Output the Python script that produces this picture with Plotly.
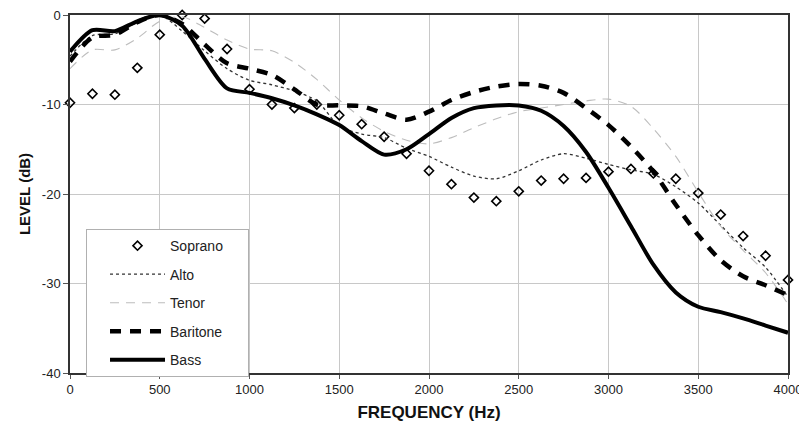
import plotly.graph_objects as go

freq = [0, 125, 250, 375, 500, 625, 750, 875, 1000, 1125, 1250, 1375, 1500, 1625, 1750,
        1875, 2000, 2125, 2250, 2375, 2500, 2625, 2750, 2875, 3000, 3125, 3250, 3375,
        3500, 3625, 3750, 3875, 4000]

soprano = [-9.8, -8.8, -8.9, -5.9, -2.2, 0.0, -0.4, -3.8, -8.3, -10.0, -10.4, -10.0, -11.2,
           -12.2, -13.6, -15.5, -17.4, -18.9, -20.4, -20.8, -19.7, -18.5, -18.3, -18.2,
           -17.5, -17.2, -17.7, -18.3, -19.9, -22.3, -24.7, -26.9, -29.6]

alto = [-4.6, -2.3, -2.1, -0.8, 0.0, -1.8, -4.0, -6.0, -7.3, -7.8, -8.5, -9.6, -12.4, -13.3,
        -13.7, -14.9, -15.8, -17.0, -18.0, -18.3, -17.4, -16.2, -15.5, -16.0, -16.7, -17.3,
        -17.8, -19.2, -21.0, -23.5, -26.0, -28.2, -31.5]

tenor = [-6.0, -3.9, -3.9, -2.6, -0.7, -0.2, -1.4, -2.8, -3.8, -4.0, -5.3, -7.2, -9.5, -11.5,
         -13.0, -14.0, -14.4, -13.7, -12.6, -11.6, -10.8, -10.4, -10.0, -9.6, -9.4, -10.2,
         -12.7, -15.8, -19.8, -23.6, -26.3, -28.8, -32.3]

baritone = [-5.2, -2.5, -2.2, -0.8, 0.0, -1.0, -3.3, -5.4, -6.0, -6.7, -8.3, -10.0, -10.1,
            -10.2, -11.0, -11.7, -10.8, -9.5, -8.6, -8.0, -7.7, -7.9, -8.7, -10.4, -12.3,
            -14.7, -17.5, -21.2, -24.6, -27.4, -29.2, -30.2, -31.3]

bass = [-4.1, -1.7, -1.8, -0.7, 0.0, -1.2, -4.9, -8.2, -8.7, -9.3, -10.1, -11.1, -12.3, -14.1,
        -15.6, -15.0, -13.3, -11.5, -10.4, -10.1, -10.1, -10.7, -12.4, -15.3, -19.3, -23.6,
        -27.9, -31.0, -32.6, -33.2, -33.9, -34.7, -35.5]

x_ticks = [0, 500, 1000, 1500, 2000, 2500, 3000, 3500, 4000]
y_ticks = [0, -10, -20, -30, -40]

FONT = "Arial, Liberation Sans, sans-serif"
SMOOTH = 0.8
PAD = "&nbsp;" * 5

fig = go.Figure()

fig.add_trace(go.Scatter(
    x=freq, y=soprano, name="Soprano" + PAD, mode="markers", legendgroup="s",
    marker=dict(symbol="diamond-open", size=7, color="black", line=dict(width=1.6, color="black")),
    cliponaxis=False))

fig.add_trace(go.Scatter(
    x=freq, y=alto, name="Alto", mode="lines", legendgroup="a",
    line=dict(color="#333333", width=1.3, dash="3px,3px", shape="spline", smoothing=SMOOTH)))

fig.add_trace(go.Scatter(
    x=freq, y=tenor, name="Tenor", mode="lines", legendgroup="t",
    line=dict(color="#bdbdbd", width=1.1, dash="9px,7px", shape="spline", smoothing=SMOOTH)))

fig.add_trace(go.Scatter(
    x=freq, y=baritone, name="Baritone", mode="lines", legendgroup="b",
    line=dict(color="black", width=4.5, dash="11px,9px", shape="spline", smoothing=SMOOTH)))

fig.add_trace(go.Scatter(
    x=freq, y=bass, name="Bass", mode="lines", legendgroup="bs",
    line=dict(color="black", width=4, shape="spline", smoothing=SMOOTH)))

# the page body has an 8px margin, so the figure is sized to fit the window inside it
fig.update_layout(
    width=799, height=424,
    margin=dict(l=62, r=19, t=7, b=59, autoexpand=False),
    paper_bgcolor="white", plot_bgcolor="white",
    font=dict(family=FONT, color="#222222", size=13),
    showlegend=True,
    legend=dict(
        x=0.0223, y=0.402, xanchor="left", yanchor="top",
        bgcolor="white", bordercolor="#b0b0b0", borderwidth=1,
        font=dict(family=FONT, size=14, color="#222222"),
        traceorder="grouped", tracegroupgap=7.3,
        itemwidth=55, indentation=18,
        itemclick=False, itemdoubleclick=False,
    ),
    xaxis=dict(
        range=[0, 4000], tickvals=x_ticks, ticktext=[str(v) for v in x_ticks],
        showgrid=True, gridcolor="#c8c8c8", gridwidth=1,
        showline=True, linecolor="#333333", linewidth=1.5, mirror=True,
        ticks="outside", ticklen=4, tickcolor="#555555",
        tickfont=dict(size=13, family=FONT, color="#222222"),
        zeroline=False, automargin=False, ticklabeloverflow="allow",
        title=dict(text="<b>FREQUENCY (Hz)</b>", font=dict(size=17, family=FONT, color="#111111"), standoff=10),
    ),
    yaxis=dict(
        range=[-40, 0], tickvals=y_ticks, ticktext=[str(v) for v in y_ticks],
        showgrid=True, gridcolor="#c8c8c8", gridwidth=1,
        showline=True, linecolor="#333333", linewidth=1.5, mirror=True,
        ticks="outside", ticklen=5, tickcolor="#555555",
        tickfont=dict(size=13, family=FONT, color="#222222"),
        zeroline=False, automargin=False, ticklabeloverflow="allow",
        title=dict(text="<b>LEVEL (dB)</b>", font=dict(size=15, family=FONT, color="#111111"), standoff=8),
    ),
)

fig.write_html("out.html")
